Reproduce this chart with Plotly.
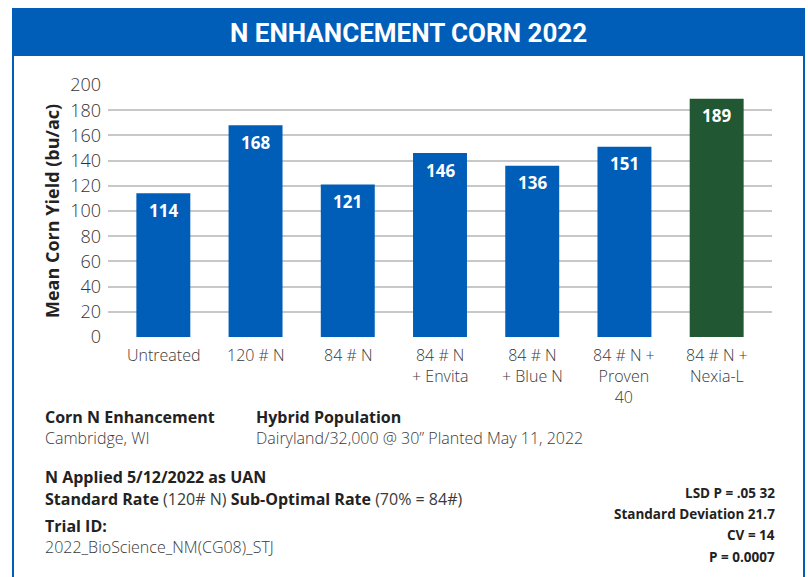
import plotly.graph_objects as go

categories = ["Untreated", "120 # N", "84 # N", "84 # N<br>+ Envita", "84 # N<br>+ Blue N",
              "84 # N +<br>Proven<br>40", "84 # N +<br>Nexia-L"]
yields = [114, 168, 121, 146, 136, 151, 189]
bar_colors = ["#005EB8"] * 6 + ["#215732"]
y_ticks = list(range(0, 201, 20))

W, H = 808, 577
BLUE = "#005EB8"
FONT = "Open Sans"


def px(x):
    return x / W


def py(y):
    return 1 - y / H


fig = go.Figure()
fig.add_trace(go.Bar(
    x=list(range(len(categories))), y=yields, marker_color=bar_colors,
    marker_line_width=0, width=0.585, hoverinfo="skip",
))

for i, v in enumerate(yields):
    fig.add_annotation(x=i, y=v, xref="x", yref="y", text=f"<b>{v}</b>", showarrow=False,
                       yanchor="middle", yshift=-17, font=dict(family=FONT, size=17, color="white"))

# category labels
for i, lab in enumerate(categories):
    fig.add_annotation(x=i, xref="x", yref="paper", y=py(342), text=lab,
                       showarrow=False, xanchor="center", yanchor="top", align="center",
                       font=dict(family=FONT, size=16, color="#3a3a3a", weight=300))

fig.update_layout(
    width=W, height=H, margin=dict(l=0, r=0, t=0, b=0, pad=0, autoexpand=False),
    paper_bgcolor="white", plot_bgcolor="white", showlegend=False,
    xaxis=dict(domain=[px(108), px(772)], range=[-0.6, 6.6], showticklabels=False,
               showgrid=False, zeroline=False, showline=False, ticks="", automargin=False),
    yaxis=dict(domain=[py(337), py(85)], range=[0, 200], tickvals=y_ticks,
               showgrid=True, gridcolor="#c8c8c8", gridwidth=1.5, zeroline=False,
               ticks="", ticklabelstandoff=6, automargin=False,
               tickfont=dict(family=FONT, size=18, color="#333333", weight=300)),
    font=dict(family=FONT),
)

fig.add_shape(type="rect", xref="paper", yref="paper", x0=px(12), x1=px(805), y0=py(56), y1=py(8),
              fillcolor=BLUE, line_width=0, layer="below")
fig.add_shape(type="line", xref="paper", yref="paper", x0=px(13), x1=px(13), y0=py(56), y1=0,
              line=dict(color=BLUE, width=2))
fig.add_shape(type="line", xref="paper", yref="paper", x0=px(804), x1=px(804), y0=py(56), y1=0,
              line=dict(color=BLUE, width=2))
fig.add_annotation(xref="paper", yref="paper", x=px(408), y=py(33), text="<b>N ENHANCEMENT CORN 2022</b>",
                   showarrow=False, xanchor="center", yanchor="middle",
                   font=dict(family="Roboto", size=26, color="white"))

fig.add_annotation(xref="paper", yref="paper", x=px(52), y=py(211), text="<b>Mean Corn Yield (bu/ac)</b>",
                   textangle=-90, showarrow=False, xanchor="center", yanchor="middle",
                   font=dict(family=FONT, size=18, color="#222222"))


def note(x, y, text, size=16, color="#333333", anchor="left", weight=None):
    f = dict(family=FONT, size=size, color=color)
    if weight:
        f["weight"] = weight
    fig.add_annotation(xref="paper", yref="paper", x=px(x), y=py(y), text=text, showarrow=False,
                       xanchor=anchor, yanchor="middle", align=anchor, font=f)


note(43, 417, "<b>Corn N Enhancement</b>", color="#222222")
note(43, 438, "Cambridge, WI", color="#3a3a3a", weight=300)
note(254, 417, "<b>Hybrid Population</b>", color="#222222")
note(254, 438, "Dairyland/32,000 @ 30\u201d Planted May 11, 2022", color="#3a3a3a", weight=300)
note(43, 477, "<b>N Applied 5/12/2022 as UAN</b>", color="#222222")
note(43, 499, "<b>Standard Rate</b> <span style='color:#3a3a3a'>(120# N)</span> <b>Sub-Optimal Rate</b> "
              "<span style='color:#3a3a3a'>(70% = 84#)</span>", color="#222222")
note(43, 526, "<b>Trial ID:</b>", color="#222222")
note(43, 547, "2022_BioScience_NM(CG08)_STJ", color="#3a3a3a", weight=300)

stats = ["LSD P = .05 32", "Standard Deviation 21.7", "CV = 14", "P = 0.0007"]
for s, yy in zip(stats, [493, 514, 535, 557]):
    note(777, yy, f"<b>{s}</b>", size=13.5, color="#222222", anchor="right")

fig.write_html("out.html", config={"displayModeBar": False, "responsive": False},
               post_script="document.body.style.margin='0';")
